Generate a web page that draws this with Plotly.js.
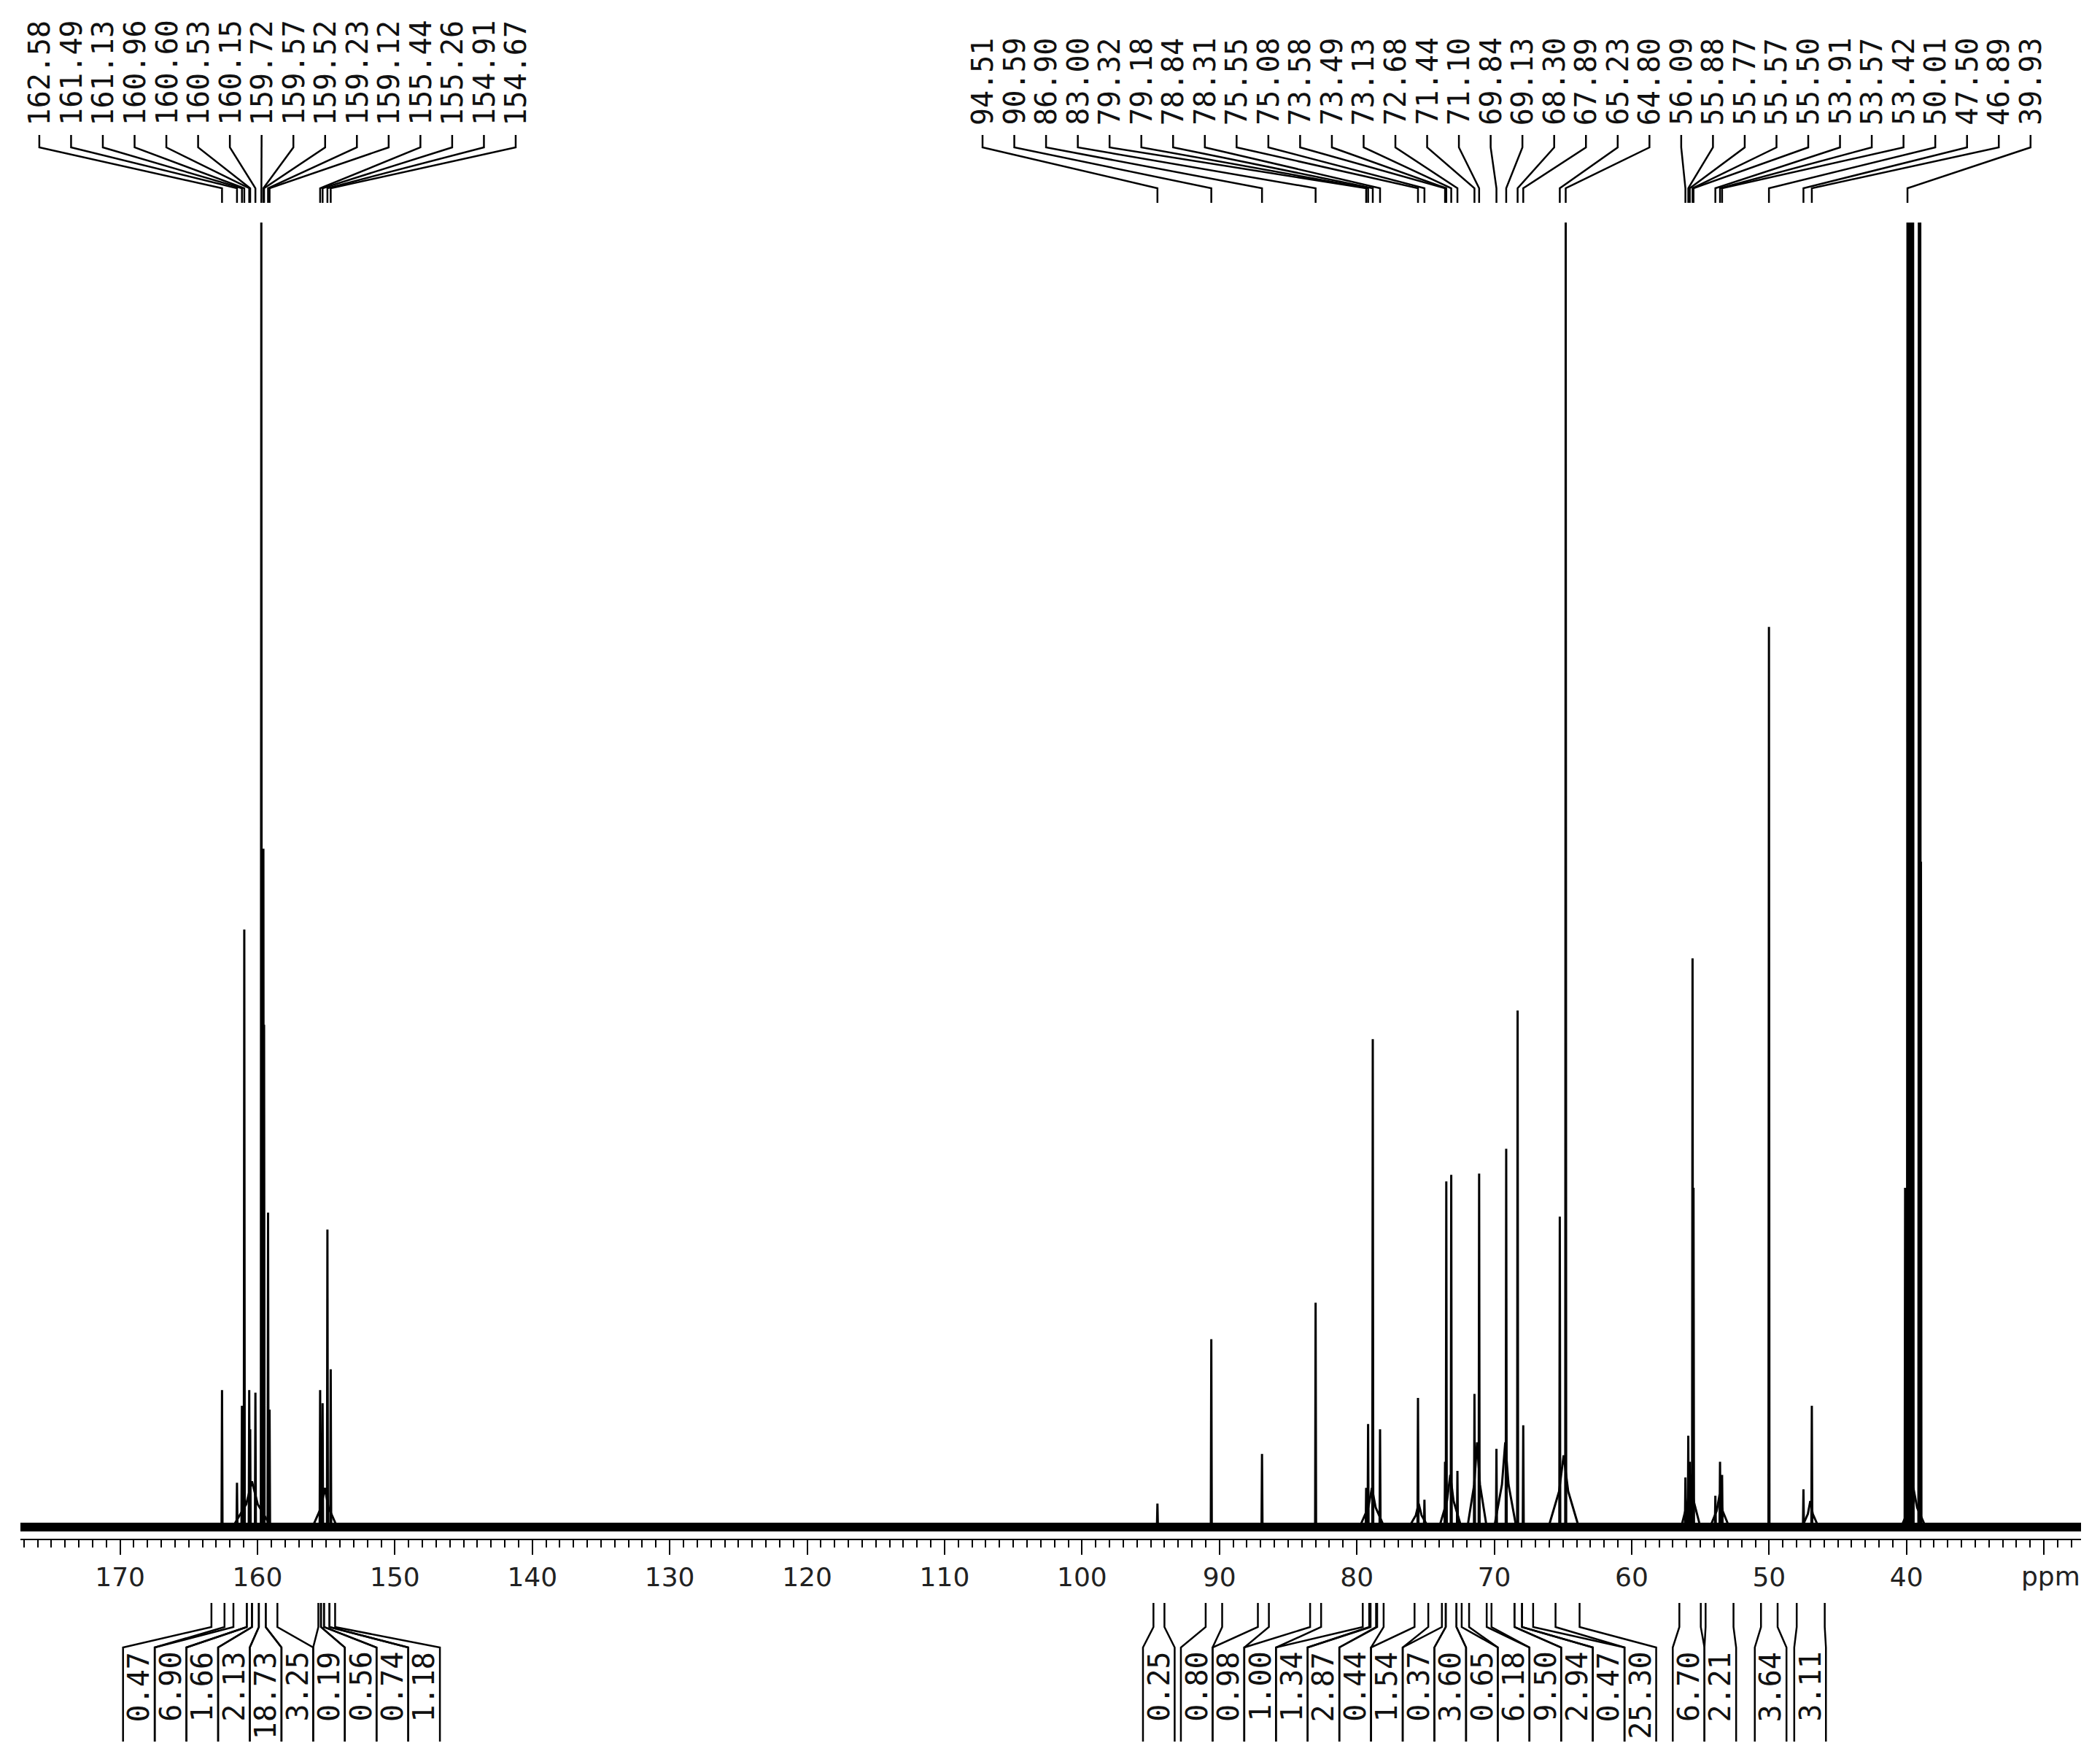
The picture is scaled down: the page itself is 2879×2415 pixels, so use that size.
<!DOCTYPE html>
<html><head><meta charset="utf-8">
<script src="https://cdn.plot.ly/plotly-3.0.1.min.js"></script>
<style>html,body{margin:0;padding:0;background:#fff}#chart{width:2879px;height:2415px}</style>
</head><body><div id="chart"></div>
<script>
// ---------------- data ----------------
// labelled peaks (ppm) and their displayed heights (% of full scale; >100 = clipped)
const peakPpm = [162.58,161.49,161.13,160.96,160.60,160.53,160.15,159.72,159.57,159.52,159.23,159.12,155.44,155.26,154.91,154.67,
  94.51,90.59,86.90,83.00,79.32,79.18,78.84,78.31,75.55,75.08,73.58,73.49,73.13,72.68,71.44,71.10,69.84,69.13,68.30,67.89,65.23,64.80,
  56.09,55.88,55.77,55.57,55.50,53.91,53.57,53.42,50.01,47.50,46.89,39.93];
const peakHeight = [10.5,3.4,9.3,45.8,10.5,7.5,10.3,130,52,38.5,24.1,9,10.5,9.5,22.8,12.1,
  1.8,14.4,5.6,17.2,3,7.9,37.4,7.5,9.9,2.1,5,26.5,27,4.3,10.2,27.1,6,29,39.6,7.8,23.8,130,
  3.8,7,5,43.6,26,2.4,5,4,69,2.9,9.3,130];
// unlabelled solvent lines
const solventPpm = [40.10,39.83,39.72,39.62,39.52,39.10,39.00,38.95];
const solventHeight = [26,130,130,130,130,130,130,51];
// broad bases under multiplets
const humpPpm = [160.4,155.1,78.9,75.5,73.2,71.25,69.2,64.95,55.7,53.6,47.0,39.5];
const humpHeight = [3.5,3,3,1.8,4,6.5,6.5,5.5,4,2.5,2,3];
const humpHalfWidth = [1.4,0.9,0.9,0.7,0.8,0.7,0.8,1.1,0.7,0.7,0.6,0.9];
// integrals
const integralStart = [163.35,161.75,160.78,160.40,159.90,159.40,155.57,155.38,155.16,154.76,
  94.80,91.00,87.20,83.40,79.57,79.00,78.52,75.80,73.81,73.53,72.75,71.83,70.20,68.53,67.98,65.54,
  56.53,54.62,50.59,47.99];
const integralEnd = [162.40,160.78,160.40,159.90,159.40,158.55,155.38,155.16,154.76,154.35,
  94.00,89.80,86.40,82.60,79.10,78.60,78.05,74.80,73.53,72.75,72.37,70.55,68.53,67.98,67.17,63.79,
  54.97,52.59,49.38,45.95];
const integralValue = [0.47,6.90,1.66,2.13,18.73,3.25,0.19,0.56,0.74,1.18,
  0.25,0.80,0.98,1.00,1.34,2.87,0.44,1.54,0.37,3.60,0.65,6.18,9.50,2.94,0.47,25.30,
  6.70,2.21,3.64,3.11];
// axis ticks
const xTickVals = [170,160,150,140,130,120,110,100,90,80,70,60,50,40,30];
const xTickText = ['170','160','150','140','130','120','110','100','90','80','70','60','50','40',''];
const xUnit = 'ppm';

// ---------------- layout geometry ----------------
const W = 2879, H = 2415;
const xRange = [177.25, 27.30];
const basePx = 2093, pxPerUnit = 17.88, clipTop = 100;
const Y = px => (basePx - px) / pxPerUnit;
// label slots (ppm of first slot, count) and slot pitch
const labelGroups = [{count:16, first:175.875}, {count:34, first:107.237}];
const labelPitch = 2.311;
const boxGroups = [{count:10, first:169.782},{count:1, first:95.562},{count:15, first:92.803},{count:2, first:57.01},{count:1, first:51.04},{count:1, first:48.17}];
const boxPitch = 2.3058;
const monoFont = {family:'DejaVu Sans Mono', size:40, color:'#111'};

const traces = [];
// noise band
traces.push({x:xRange.slice(), y:[0,0], mode:'lines', line:{color:'#000', width:12}, hoverinfo:'skip'});
// broad bases (outline of the skirts)
humpPpm.forEach((c,i)=>{
  const w = humpHalfWidth[i], h = humpHeight[i];
  traces.push({x:[c+w, c+0.3*w, c, c-0.3*w, c-w], y:[0, 0.5*h, h, 0.5*h, 0], mode:'lines',
    line:{color:'#000', width:3}, hoverinfo:'skip'});
});
// sharp lines
const allPeaks = peakPpm.map((p,i)=>[p, peakHeight[i]]).concat(solventPpm.map((p,i)=>[p, solventHeight[i]]));
allPeaks.sort((a,b)=>b[0]-a[0]);
const hw = 0.035;
const sx=[xRange[0]], sy=[0];
allPeaks.forEach(([p,h])=>{ sx.push(p+hw, p, p-hw); sy.push(0, Math.min(h, clipTop), 0); });
sx.push(xRange[1]); sy.push(0);
traces.push({x:sx, y:sy, mode:'lines', line:{color:'#000', width:3}, hoverinfo:'skip'});

// peak label connectors + annotations
const annotations = [];
const cx=[], cy=[];
let idx = 0;
labelGroups.forEach(g=>{
  for (let k=0;k<g.count;k++,idx++){
    const slot = g.first - k*labelPitch, p = peakPpm[idx];
    cx.push(slot, slot, p, p, null); cy.push(Y(185), Y(202), Y(258), Y(278), null);
    annotations.push({x:slot, y:Y(173), xref:'x', yref:'y', text:p.toFixed(2), textangle:-90,
      xanchor:'center', yanchor:'bottom', showarrow:false, font:monoFont, borderpad:0});
  }
});
traces.push({x:cx, y:cy, mode:'lines', line:{color:'#000', width:2.5}, hoverinfo:'skip', connectgaps:false});

// integral connectors + annotations
const ix=[], iy=[];
idx = 0;
boxGroups.forEach(g=>{
  for (let k=0;k<g.count;k++,idx++){
    const eL = g.first - k*boxPitch, eR = g.first - (k+1)*boxPitch;
    const s = integralStart[idx], e = integralEnd[idx];
    ix.push(s, s, eL, eL, null, e, e, eR, eR, null);
    iy.push(Y(2197), Y(2230), Y(2258), Y(2387), null, Y(2197), Y(2230), Y(2258), Y(2387), null);
    annotations.push({x:(eL+eR)/2, y:Y(2263), xref:'x', yref:'y', text:integralValue[idx].toFixed(2), textangle:-90,
      xanchor:'center', yanchor:'top', showarrow:false, font:monoFont, borderpad:0});
  }
});
traces.push({x:ix, y:iy, mode:'lines', line:{color:'#000', width:2.5}, hoverinfo:'skip', connectgaps:false});

annotations.push({xref:'paper', x:1, xanchor:'right', yref:'y', y:Y(2182), yanchor:'bottom', text:xUnit,
  showarrow:false, font:{family:'DejaVu Sans', size:36, color:'#222'}, borderpad:0});

const layout = {
  width:W, height:H, margin:{l:28, r:26, t:0, b:0, pad:0},
  paper_bgcolor:'#fff', plot_bgcolor:'#fff', showlegend:false,
  xaxis:{range:xRange, anchor:'free', position:(H-2110)/H, showline:true, linecolor:'#000', linewidth:2,
    ticks:'outside', ticklen:20, tickwidth:2, tickcolor:'#000', tickmode:'array', tickvals:xTickVals, ticktext:xTickText,
    tickfont:{family:'DejaVu Sans', size:36, color:'#222'}, showgrid:false, zeroline:false,
    minor:{ticks:'outside', ticklen:10, tickwidth:2, tickcolor:'#000', tickmode:'linear', tick0:0, dtick:1, showgrid:false}},
  yaxis:{range:[Y(H), Y(0)], visible:false, showgrid:false, zeroline:false},
  annotations:annotations
};
Plotly.newPlot('chart', traces, layout, {staticPlot:true});
</script></body></html>
